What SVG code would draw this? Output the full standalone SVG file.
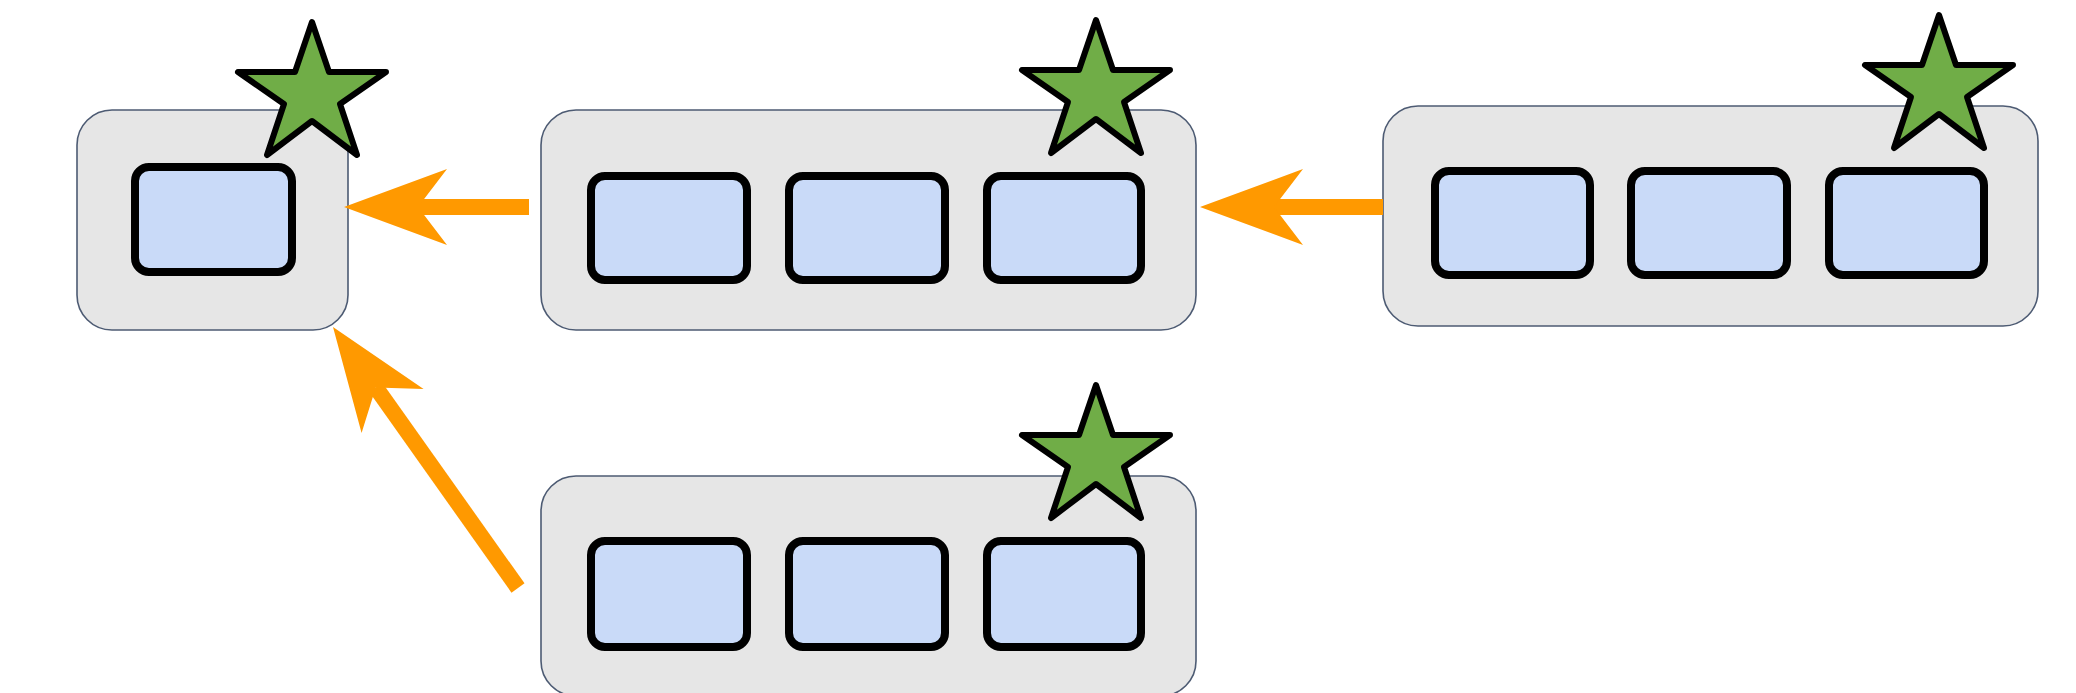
<svg xmlns="http://www.w3.org/2000/svg" xmlns:xlink="http://www.w3.org/1999/xlink" width="2076" height="693" viewBox="0 0 2076 693">
<style>
.container{fill:#e6e6e6;stroke:#4d5b73;stroke-width:1.6}
.box{fill:#c9daf8;stroke:#000;stroke-width:8}
.star{fill:#70ad47;stroke:#000;stroke-width:6;stroke-linejoin:round}
.conn{stroke:#ff9900;stroke-width:16;fill:none;stroke-linecap:butt}
</style>
<defs>
<path id="star" class="star" d="M0,0 L17,50 L74,50 L28,82 L45,133 L0,99 L-45,133 L-28,82 L-74,50 L-17,50 Z"/>
<marker id="head" markerUnits="userSpaceOnUse" viewBox="-104 -39 105 78" refX="-74" refY="0" markerWidth="105" markerHeight="78" orient="auto">
<path d="M0,0 L-103,-38 L-74,0 L-103,38 Z" fill="#ff9900"/>
</marker>
</defs>
<rect width="2076" height="693" fill="#fff"/>
<g id="node-left">
<rect class="container" x="77" y="110" width="271" height="220" rx="35" ry="35"/>
<rect class="box" x="135" y="167" width="157" height="105" rx="14" ry="14"/>
<use href="#star" xlink:href="#star" transform="translate(312,22)"/>
</g>
<g id="node-middle">
<rect class="container" x="541" y="110" width="655" height="220" rx="35" ry="35"/>
<rect class="box" x="591" y="176" width="156" height="104" rx="14" ry="14"/>
<rect class="box" x="789" y="176" width="156" height="104" rx="14" ry="14"/>
<rect class="box" x="987" y="176" width="154" height="104" rx="14" ry="14"/>
<use href="#star" xlink:href="#star" transform="translate(1096,20)"/>
</g>
<g id="node-right">
<rect class="container" x="1383" y="106" width="655" height="220" rx="35" ry="35"/>
<rect class="box" x="1435" y="171" width="155" height="104" rx="14" ry="14"/>
<rect class="box" x="1631" y="171" width="156" height="104" rx="14" ry="14"/>
<rect class="box" x="1829" y="171" width="155" height="104" rx="14" ry="14"/>
<use href="#star" xlink:href="#star" transform="translate(1939,15)"/>
</g>
<g id="node-bottom">
<rect class="container" x="541" y="476" width="655" height="220" rx="35" ry="35"/>
<rect class="box" x="591" y="541" width="156" height="106" rx="14" ry="14"/>
<rect class="box" x="789" y="541" width="156" height="106" rx="14" ry="14"/>
<rect class="box" x="987" y="541" width="154" height="106" rx="14" ry="14"/>
<use href="#star" xlink:href="#star" transform="translate(1096,385)"/>
</g>
<g id="connectors">
<line class="conn" x1="1383" y1="207" x2="1274" y2="207" marker-end="url(#head)"/>
<line class="conn" x1="529" y1="207" x2="418" y2="207" marker-end="url(#head)"/>
<line class="conn" x1="518" y1="588" x2="375.8" y2="387.4" marker-end="url(#head)"/>
</g>
</svg>
